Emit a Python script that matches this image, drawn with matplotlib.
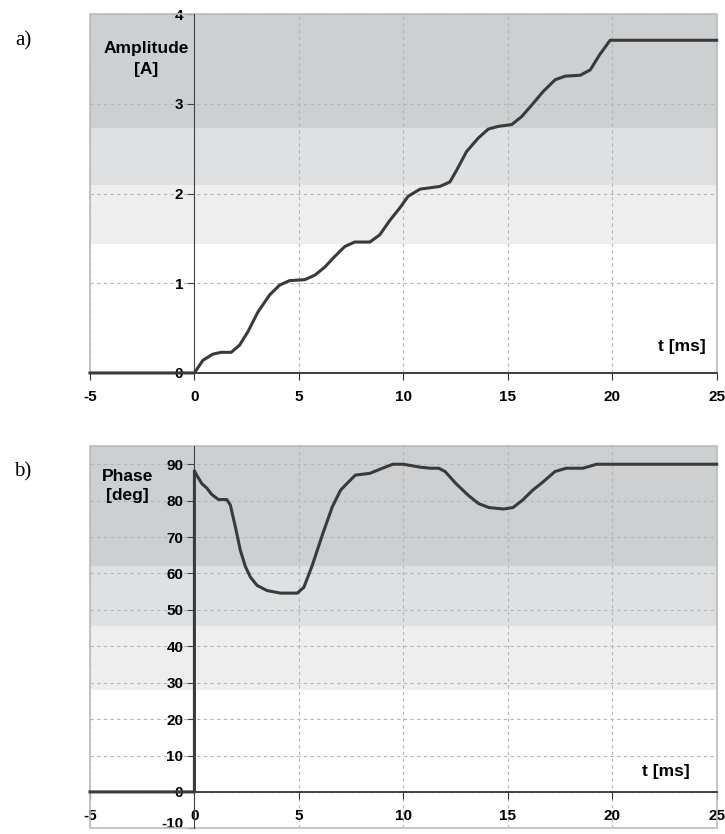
import numpy as np
import matplotlib.pyplot as plt
import matplotlib.transforms as mtransforms
from matplotlib.patches import Rectangle

# amplitude curve, t in ms
amp_t = [-5, 0, 0.4, 0.88, 1.28, 1.76, 2.16, 2.56, 3.04, 3.6, 4.08, 4.56, 5.28, 5.76,
         6.24, 6.72, 7.2, 7.67, 8.4, 8.87, 9.35, 9.83, 10.23, 10.8, 11.75, 12.23, 12.55,
         13.03, 13.59, 14.07, 14.55, 15.19, 15.67, 16.23, 16.7, 17.27, 17.75, 18.47,
         18.95, 19.4, 19.9, 25]
amp = [0, 0, 0.14, 0.21, 0.23, 0.23, 0.31, 0.46, 0.68, 0.87, 0.98, 1.03, 1.04, 1.09,
       1.18, 1.30, 1.41, 1.46, 1.46, 1.54, 1.70, 1.84, 1.97, 2.05, 2.08, 2.13, 2.26,
       2.47, 2.62, 2.72, 2.75, 2.77, 2.86, 3.01, 3.14, 3.27, 3.31, 3.32, 3.38, 3.55,
       3.71, 3.71]

# phase curve
ph_t = [-5, 0, 0, 0.11, 0.35, 0.6, 0.83, 1.15, 1.55, 1.72, 1.96, 2.2, 2.44, 2.68, 3.0,
        3.48, 4.12, 4.92, 5.24, 5.64, 6.12, 6.6, 7.0, 7.32, 7.7, 8.4, 9.0, 9.5, 10.0,
        10.8, 11.3, 11.7, 12.0, 12.5, 13.1, 13.6, 14.1, 14.8, 15.25, 15.7, 16.2, 16.7,
        17.26, 17.8, 18.6, 19.25, 19.7, 25]
ph = [0, 0, 88.2, 87, 84.7, 83.4, 81.7, 80.3, 80.3, 78.8, 72.8, 66.3, 61.9, 59, 56.7,
      55.3, 54.6, 54.6, 56.2, 62.2, 70.5, 78.3, 82.9, 84.8, 87, 87.5, 88.9, 90, 90,
      89.2, 88.9, 88.9, 88, 84.8, 81.5, 79.2, 78.1, 77.7, 78.1, 80.1, 82.9, 85.2, 88,
      88.9, 88.9, 90, 90, 90]

# shaded bands (lower edge, upper edge)
amp_bands = [(2.73, 4), (2.1, 2.73), (1.44, 2.1)]
ph_bands = [(62, 95), (45.5, 62), (28, 45.5)]
band_colors = ['#cecfd1', '#dfe0e2', '#eeeeee']

x_ticks = [-5, 0, 5, 10, 15, 20, 25]
amp_ticks = [0, 1, 2, 3, 4]
ph_ticks = list(range(-10, 100, 10))

plt.rcParams['font.family'] = ['Liberation Sans', 'DejaVu Sans']
plt.rcParams['font.weight'] = 'bold'
plt.rcParams['axes.unicode_minus'] = False

fig = plt.figure(figsize=(7.25, 8.34), dpi=100)
ax1 = fig.add_axes([0.1241, 0.5528, 0.8644, 0.4301])
ax2 = fig.add_axes([0.1241, 0.0068, 0.8644, 0.4584])


def style_axes(ax, ylim, yticks, bands):
    ax.set_xlim(-5, 25)
    ax.set_ylim(*ylim)
    for (lo, hi), c in zip(bands, band_colors):
        ax.axhspan(lo, hi, color=c, lw=0, zorder=0)
    ax.set_axisbelow(True)
    ax.set_xticks(x_ticks)
    ax.set_yticks(yticks)
    ax.grid(True, color='#b5b5b5', ls=(0, (3, 3)), lw=0.8)
    ax.spines['left'].set_position(('data', 0))
    ax.spines['bottom'].set_position(('data', 0))
    ax.spines['left'].set_color('#444444')
    ax.spines['bottom'].set_color('#333333')
    ax.spines['bottom'].set_linewidth(1.3)
    ax.spines['top'].set_visible(False)
    ax.spines['right'].set_visible(False)
    ax.add_patch(Rectangle((0, 0), 1, 1, transform=ax.transAxes, fill=False,
                           ec='#bbbbbb', lw=1.2, clip_on=False, zorder=0.6))
    ax.tick_params(axis='x', direction='out', length=5, pad=7, labelsize=11,
                   color='#333333')
    ax.tick_params(axis='y', direction='out', length=5, pad=3, labelsize=11,
                   color='#444444')
    ax.set_facecolor('white')


style_axes(ax1, (0, 4), amp_ticks, amp_bands)
ax1.plot(amp_t, amp, color='#3a3a3a', lw=2.2, zorder=3, clip_on=False)
ax1.text(-2.3, 3.5, 'Amplitude\n[A]', ha='center', va='center', fontsize=12.5,
         fontweight='bold', linespacing=1.5)
ax1.text(24.5, 0.3, 't [ms]', ha='right', va='center', fontsize=12.5,
         fontweight='bold')

style_axes(ax2, (-10, 95), ph_ticks, ph_bands)
ax2.plot(ph_t, ph, color='#3a3a3a', lw=2.2, zorder=3, clip_on=False)
ax2.text(-3.2, 84, 'Phase\n[deg]', ha='center', va='center', fontsize=12.5,
         fontweight='bold', linespacing=1.35)
ax2.text(23.7, 5.6, 't [ms]', ha='right', va='center', fontsize=12.5,
         fontweight='bold')

# the -10 label sits on the lower edge; lift it a little so it stays inside
fig.canvas.draw()
lift = mtransforms.ScaledTranslation(0, 6 / 100, fig.dpi_scale_trans)
for lab in ax2.get_yticklabels():
    if lab.get_text() == '-10':
        lab.set_transform(lab.get_transform() + lift)

fig.text(23 / 725, 1 - 41 / 834, 'a)', family='Liberation Serif', fontweight='normal',
         fontsize=15, ha='center', va='center')
fig.text(23 / 725, 1 - 472 / 834, 'b)', family='Liberation Serif', fontweight='normal',
         fontsize=15, ha='center', va='center')

fig.savefig('out.png', dpi=100)
